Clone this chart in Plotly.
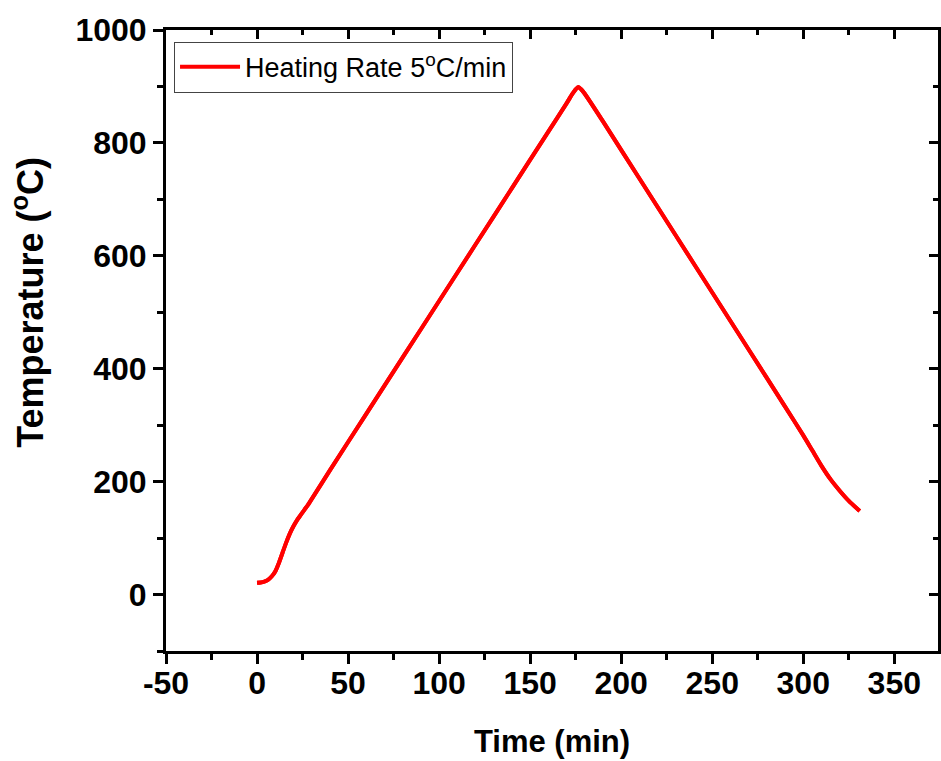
import plotly.graph_objects as go

# Furnace program: time (min) vs. temperature (°C)
time_min = [0, 2, 4, 6, 8, 10, 12, 14, 16, 18, 20, 22, 24, 26, 28, 30,
            40, 60, 80, 100, 120, 140, 160, 170, 173, 175, 176.5, 178, 180,
            190, 210, 230, 250, 270, 290, 300, 305, 310, 315, 320, 325, 331]
temp_c = [21, 21.5, 23, 26, 32, 41, 56, 74, 92, 108, 121, 132, 141, 150, 159, 169,
          220, 320, 420, 520, 620, 720, 820, 870, 886, 895, 899, 895, 887,
          838, 737, 636, 535, 434, 333, 282, 255, 228, 204, 184, 166, 148]

series_name = "Heating Rate 5<sup>o</sup>C/min"
x_title = "Time (min)"
y_title = "Temperature (<sup>o</sup>C)"
x_range = [-50, 374]
y_range = [-100, 1000]
x_ticks = [-50, 0, 50, 100, 150, 200, 250, 300, 350]
x_ticktext = ["-50", "0", "50", "100", "150", "200", "250", "300", "350"]
y_ticks = [0, 200, 400, 600, 800, 1000]
y_ticktext = ["0", "200", "400", "600", "800", "1000"]

FONT = "Liberation Sans, Arial, sans-serif"

fig = go.Figure()
fig.add_trace(go.Scatter(
    x=time_min, y=temp_c, mode="lines", name=series_name,
    line=dict(color="#ff0000", width=4, shape="spline", smoothing=0.6),
))
# same curve bound to the mirrored top/right axes so the frame axes are drawn
fig.add_trace(go.Scatter(
    x=time_min, y=temp_c, mode="lines", xaxis="x2", yaxis="y2",
    showlegend=False, hoverinfo="skip",
    line=dict(color="#ff0000", width=4, shape="spline", smoothing=0.6),
))

axis_common = dict(
    showline=True, linecolor="black", linewidth=3,
    showgrid=False, zeroline=False,
    tickcolor="black", tickwidth=3,
)

fig.update_layout(
    width=941, height=761,
    margin=dict(l=166, r=3, t=30, b=110),
    paper_bgcolor="white", plot_bgcolor="white",
    font=dict(family=FONT, color="black"),
    showlegend=True,
    legend=dict(
        x=0.0104, y=0.981, xanchor="left", yanchor="top",
        bgcolor="white", bordercolor="#444444", borderwidth=1,
        font=dict(family=FONT, size=27, color="black"),
        itemwidth=60, tracegroupgap=0,
    ),
    xaxis=dict(
        **axis_common, range=x_range, tickvals=x_ticks, ticktext=x_ticktext,
        ticks="outside", ticklen=10, ticklabelstandoff=-8,
        minor=dict(ticks="outside", ticklen=6, dtick=25, tickcolor="black", tickwidth=3),
        tickfont=dict(family=FONT, size=32, weight="bold"),
        title=dict(text=x_title, font=dict(family=FONT, size=31, weight="bold"), standoff=30),
    ),
    yaxis=dict(
        **axis_common, range=y_range, tickvals=y_ticks, ticktext=y_ticktext,
        ticks="outside", ticklen=10,
        minor=dict(ticks="outside", ticklen=6, dtick=100, tickcolor="black", tickwidth=3),
        tickfont=dict(family=FONT, size=32, weight="bold"),
    ),
    # mirrored frame with inward ticks on top and right
    xaxis2=dict(
        **axis_common, range=x_range, tickvals=x_ticks, overlaying="x", side="top",
        anchor="y2", ticks="inside", ticklen=9, showticklabels=False,
        minor=dict(ticks="inside", ticklen=5, dtick=25, tickcolor="black", tickwidth=3),
    ),
    yaxis2=dict(
        **axis_common, range=y_range, tickvals=y_ticks, overlaying="y", side="right",
        anchor="x2", ticks="inside", ticklen=9, showticklabels=False,
        minor=dict(ticks="inside", ticklen=5, dtick=100, tickcolor="black", tickwidth=3),
    ),
    annotations=[dict(
        text=y_title, textangle=-90, xref="paper", yref="paper",
        x=-0.179, y=0.562, xanchor="center", yanchor="middle", showarrow=False,
        font=dict(family=FONT, size=36, weight="bold"),
    )],
)

fig.write_html("out.html")
